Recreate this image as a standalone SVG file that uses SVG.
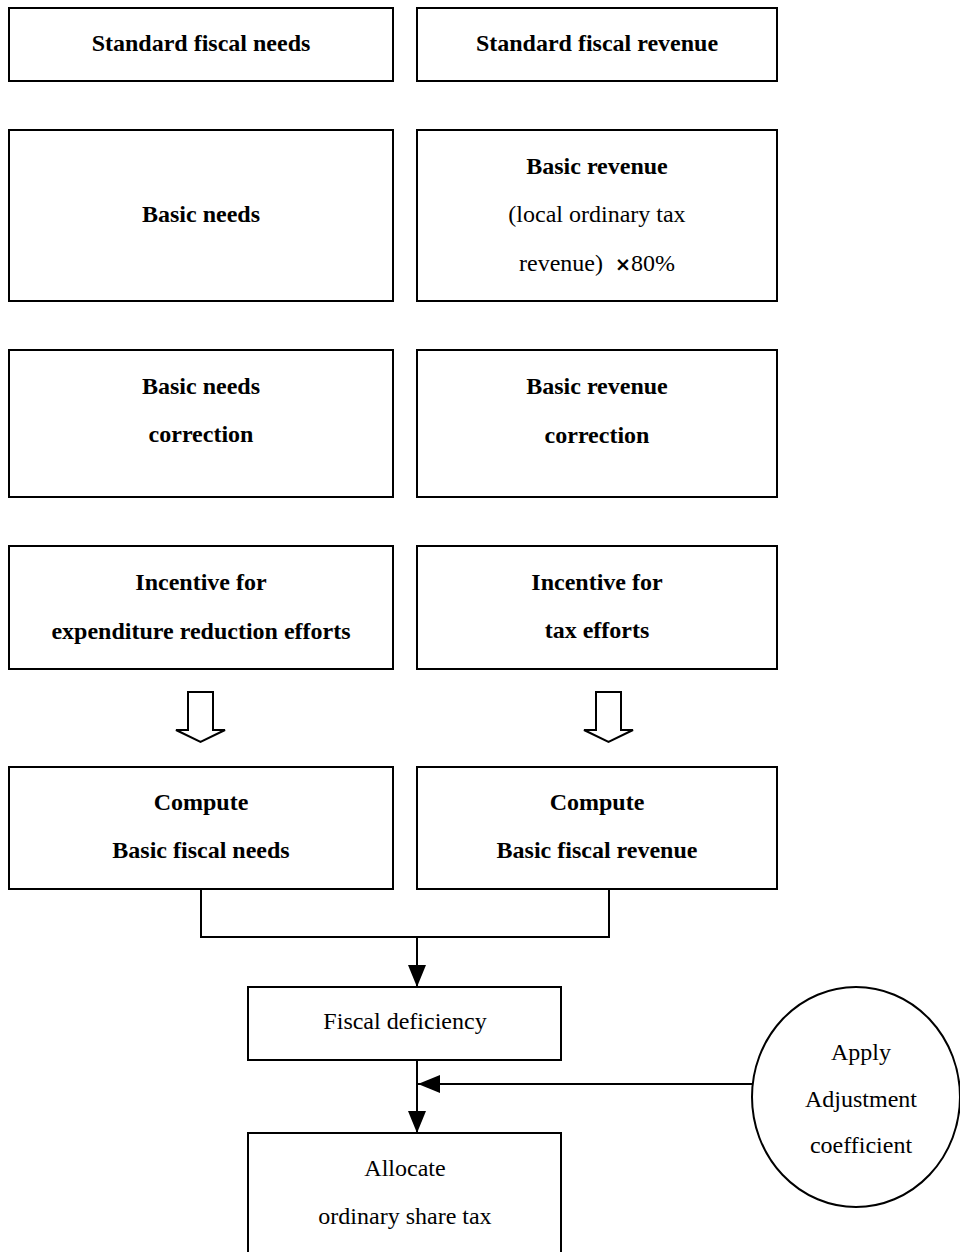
<svg xmlns="http://www.w3.org/2000/svg" width="960" height="1252" viewBox="0 0 960 1252">
<defs>
<style>
.box{fill:#fff;stroke:#000;stroke-width:2}
.b{font-family:"Liberation Serif","Times New Roman",serif;font-size:24px;font-weight:bold;text-anchor:middle;fill:#000}
.r{font-family:"Liberation Serif","Times New Roman",serif;font-size:24px;text-anchor:middle;fill:#000}
.line{fill:none;stroke:#000;stroke-width:2}
.hollow{fill:#fff;stroke:#000;stroke-width:2;stroke-linejoin:miter}
</style>
<marker id="ah" viewBox="0 0 10 10" refX="10" refY="5" markerWidth="22" markerHeight="18" markerUnits="userSpaceOnUse" orient="auto" preserveAspectRatio="none">
<path d="M0,0 L10,5 L0,10 Z" fill="#000"/>
</marker>
</defs>
<rect width="960" height="1252" fill="#fff"/>

<g id="std-needs"><rect class="box" x="9" y="8" width="384" height="73"/><text class="b" x="201" y="51">Standard fiscal needs</text></g>
<g id="std-revenue"><rect class="box" x="417" y="8" width="360" height="73"/><text class="b" x="597" y="51">Standard fiscal revenue</text></g>

<g id="basic-needs"><rect class="box" x="9" y="130" width="384" height="171"/><text class="b" x="201" y="222">Basic needs</text></g>
<g id="basic-revenue"><rect class="box" x="417" y="130" width="360" height="171"/>
<text class="b" x="597" y="174">Basic revenue</text>
<text class="r" x="597" y="222">(local ordinary tax</text>
<text class="r" x="597" y="271" xml:space="preserve">revenue)  <tspan font-family="'DejaVu Sans',sans-serif" font-weight="bold" font-size="19">×</tspan>80%</text></g>

<g id="needs-correction"><rect class="box" x="9" y="350" width="384" height="147"/>
<text class="b" x="201" y="394">Basic needs</text><text class="b" x="201" y="442">correction</text></g>
<g id="revenue-correction"><rect class="box" x="417" y="350" width="360" height="147"/>
<text class="b" x="597" y="394">Basic revenue</text><text class="b" x="597" y="443" font-size="26">correction</text></g>

<g id="incentive-exp"><rect class="box" x="9" y="546" width="384" height="123"/>
<text class="b" x="201" y="590">Incentive for</text><text class="b" x="201" y="639" font-size="25">expenditure reduction efforts</text></g>
<g id="incentive-tax"><rect class="box" x="417" y="546" width="360" height="123"/>
<text class="b" x="597" y="590">Incentive for</text><text class="b" x="597" y="638">tax efforts</text></g>

<g id="compute-needs"><rect class="box" x="9" y="767" width="384" height="122"/>
<text class="b" x="201" y="810">Compute</text><text class="b" x="201" y="858">Basic fiscal needs</text></g>
<g id="compute-revenue"><rect class="box" x="417" y="767" width="360" height="122"/>
<text class="b" x="597" y="810">Compute</text><text class="b" x="597" y="858">Basic fiscal revenue</text></g>

<g id="fiscal-deficiency"><rect class="box" x="248" y="987" width="313" height="73"/>
<text class="r" x="405" y="1029">Fiscal deficiency</text></g>

<g id="allocate"><rect class="box" x="248" y="1133" width="313" height="130"/>
<text class="r" x="405" y="1176">Allocate</text><text class="r" x="405" y="1224">ordinary share tax</text></g>

<g id="adjustment"><ellipse class="box" cx="856" cy="1097" rx="104" ry="110"/>
<text class="r" x="861" y="1060">Apply</text><text class="r" x="861" y="1107">Adjustment</text><text class="r" x="861" y="1153">coefficient</text></g>

<g id="connectors">
<path class="hollow" d="M188,692 L213,692 L213,730 L225,730 L200.5,742 L176,730 L188,730 Z"/>
<path class="hollow" d="M596,692 L621,692 L621,730 L633,730 L608.5,742 L584,730 L596,730 Z"/>
<path class="line" d="M201,889 L201,937 L609,937 L609,889"/>
<path class="line" d="M417,937 L417,987" marker-end="url(#ah)"/>
<path class="line" d="M417,1060 L417,1133" marker-end="url(#ah)"/>
<path class="line" d="M752,1084 L418,1084" marker-end="url(#ah)"/>
</g>
</svg>
